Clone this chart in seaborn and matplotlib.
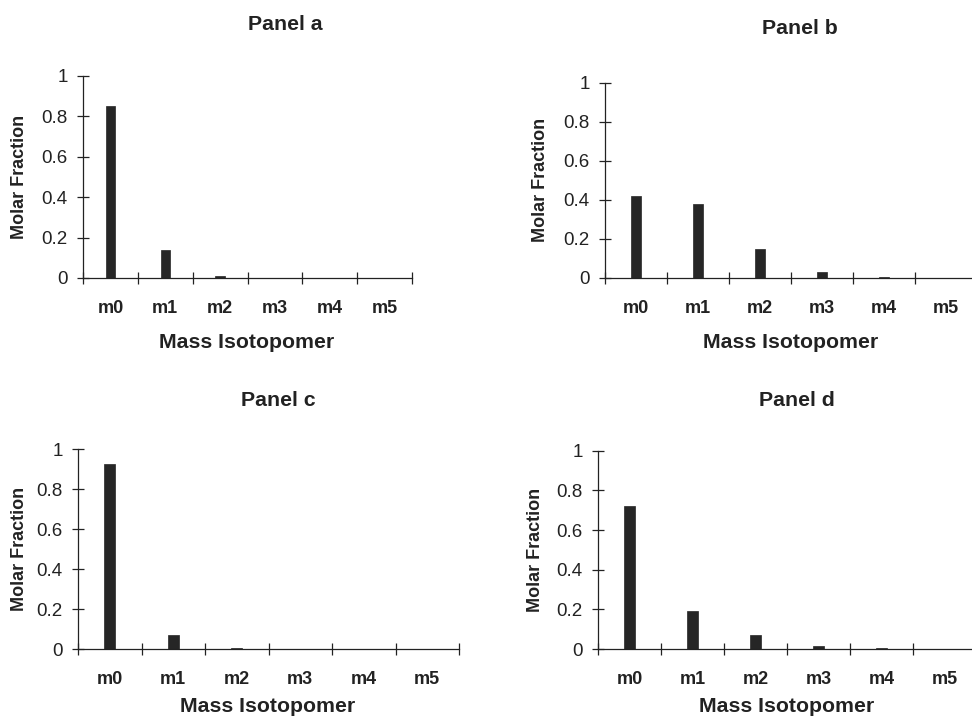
import numpy as np
import pandas as pd
import matplotlib
matplotlib.use("Agg")
import matplotlib.pyplot as plt
import seaborn as sns

# Mass isotopomer distributions for the four panels
isotopomers = ["m0", "m1", "m2", "m3", "m4", "m5"]
panel_a = [0.85, 0.14, 0.008, 0.001, 0.0, 0.0]
panel_b = [0.42, 0.38, 0.15, 0.03, 0.005, 0.001]
panel_c = [0.925, 0.07, 0.004, 0.0, 0.0, 0.0]
panel_d = [0.72, 0.19, 0.07, 0.015, 0.003, 0.0]
panel_titles = ["Panel a", "Panel b", "Panel c", "Panel d"]
y_ticks = [0, 0.2, 0.4, 0.6, 0.8, 1]

sns.set_theme(style="white")
plt.rcParams["font.family"] = ["Liberation Sans", "DejaVu Sans"]

W, H = 972, 724
fig = plt.figure(figsize=(W / 100, H / 100), dpi=100)

INK = "#222222"
BAR = "#262626"


def px_axes(left, right, top, bottom):
    """Axes rectangle from pixel edges (origin at top-left)."""
    return fig.add_axes([left / W, 1 - bottom / H, (right - left) / W, (bottom - top) / H])


layout = [
    # axes edges, title centre, x-label centre, y-label centre
    dict(box=(83, 412, 76, 278), title=(285, 24), xlab=(247, 343), ylab=(19, 177)),
    dict(box=(605, 977, 82.7, 278), title=(800, 29), xlab=(791, 343), ylab=(540, 180)),
    dict(box=(78, 459, 449.3, 649), title=(278, 401), xlab=(268, 707), ylab=(19, 549)),
    dict(box=(598, 976, 450.7, 649), title=(797, 401), xlab=(787, 707), ylab=(535, 550)),
]

series = [panel_a, panel_b, panel_c, panel_d]

for spec, values, title in zip(layout, series, panel_titles):
    ax = px_axes(*spec["box"])
    df = pd.DataFrame({"isotopomer": isotopomers, "fraction": values})
    sns.barplot(data=df, x="isotopomer", y="fraction", ax=ax, color=BAR,
                saturation=1, width=0.17, edgecolor=BAR, linewidth=0.5)

    ax.set_xlim(-0.5, len(isotopomers) - 0.5)
    ax.set_ylim(0, 1)
    ax.set_xlabel("")
    ax.set_ylabel("")

    for side in ("top", "right"):
        ax.spines[side].set_visible(False)
    for side in ("left", "bottom"):
        ax.spines[side].set_color(INK)
        ax.spines[side].set_linewidth(0.9)

    # category dividers as major ticks, labels on the minor ticks
    ax.set_xticks(np.arange(-0.5, len(isotopomers), 1.0))
    ax.set_xticklabels([])
    ax.set_xticks(np.arange(len(isotopomers)), minor=True)
    ax.set_xticklabels(isotopomers, minor=True, fontsize=13, fontweight="bold", color=INK)
    ax.tick_params(axis="x", which="major", direction="inout", length=8, width=0.9,
                   color=INK, bottom=True)
    ax.tick_params(axis="x", which="minor", length=0, pad=16, bottom=True)

    ax.set_yticks(y_ticks)
    ax.set_yticklabels([f"{v:g}" for v in y_ticks], fontsize=13.5, color=INK)
    ax.tick_params(axis="y", direction="inout", length=8, width=0.9, color=INK,
                   left=True, pad=7)

    tx, ty = spec["title"]
    fig.text(tx / W, 1 - ty / H, title, ha="center", va="center",
             fontsize=15.3, fontweight="bold", color=INK)
    lx, ly = spec["xlab"]
    fig.text(lx / W, 1 - ly / H, "Mass Isotopomer", ha="center", va="center",
             fontsize=15.3, fontweight="bold", color=INK)
    yx, yy = spec["ylab"]
    fig.text(yx / W, 1 - yy / H, "Molar Fraction", ha="center", va="center",
             rotation=90, fontsize=13, fontweight="bold", color=INK)

fig.savefig("out.png", dpi=100, facecolor="white")
